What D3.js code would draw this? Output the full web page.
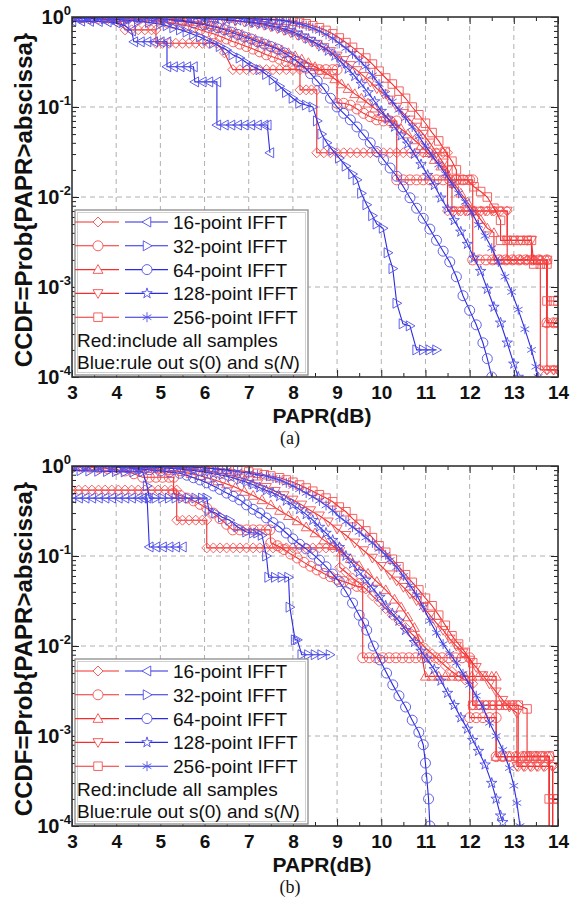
<!DOCTYPE html>
<html>
<head>
<meta charset="utf-8">
<script src="https://cdn.jsdelivr.net/npm/d3@7"></script>
<style>
  body { margin: 0; background: #fff; }
  svg { display: block; }
</style>
</head>
<body>
<svg id="fig" width="585" height="899"></svg>
<script>
// ===== axis / legend texts =====
const xTicks = [3, 4, 5, 6, 7, 8, 9, 10, 11, 12, 13, 14];
const yDecades = [1e-4, 1e-3, 1e-2, 1e-1, 1];
const legendLabels = ["16-point IFFT", "32-point IFFT", "64-point IFFT", "128-point IFFT", "256-point IFFT"];
const redShapes = ["diamond", "circle", "triUp", "triDown", "square"];
const blueShapes = ["triLeft", "triRight", "circle", "star", "asterisk"];

// ===== panel (a) : [PAPR dB, CCDF] =====
const aRed16 = [[3.0,0.97],[3.2,0.965],[3.4,0.96],[3.6,0.95],[3.8,0.93],[4.0,0.9],[4.1,0.88],[4.2,0.72],[4.35,0.72],[4.5,0.72],[4.65,0.72],[4.8,0.72],[4.9,0.72],[4.9,0.51],[5.05,0.51],[5.2,0.51],[5.35,0.51],[5.5,0.51],[5.65,0.51],[5.8,0.51],[5.95,0.51],[6.1,0.51],[6.28,0.51],[6.45,0.4],[6.64,0.26],[6.8,0.26],[6.95,0.26],[7.1,0.26],[7.25,0.26],[7.4,0.26],[7.55,0.26],[7.7,0.26],[7.85,0.26],[8.0,0.26],[8.16,0.26],[8.16,0.155],[8.3,0.155],[8.42,0.155],[8.54,0.155],[8.54,0.031],[8.7,0.031],[8.85,0.031],[9.0,0.031],[9.15,0.031],[9.3,0.031],[9.45,0.031],[9.6,0.031],[9.75,0.031],[9.9,0.031],[10.05,0.031],[10.2,0.031],[10.35,0.031],[10.5,0.031],[10.65,0.031],[10.8,0.031],[10.95,0.031],[11.1,0.031],[11.25,0.031],[11.4,0.031],[11.5,0.031],[11.5,0.007],[11.65,0.007],[11.8,0.007],[11.95,0.007],[12.1,0.007],[12.25,0.007],[12.4,0.007],[12.55,0.007],[12.7,0.007],[12.85,0.007],[12.85,0.002],[13.0,0.002],[13.15,0.002],[13.3,0.002],[13.45,0.002],[13.6,0.002],[13.6,0.00012],[13.75,0.00012],[13.9,0.00012],[14.0,0.00012]];
const aRed32 = [[3.0,0.99],[3.25,0.985],[3.5,0.98],[3.75,0.975],[4.0,0.97],[4.25,0.955],[4.5,0.94],[4.75,0.92],[5.0,0.9],[5.15,0.875],[5.3,0.85],[5.45,0.825],[5.6,0.8],[5.75,0.76],[5.9,0.72],[6.05,0.68],[6.2,0.65],[6.35,0.61],[6.5,0.57],[6.65,0.53],[6.8,0.5],[6.95,0.47],[7.1,0.44],[7.25,0.41],[7.4,0.38],[7.55,0.36],[7.7,0.34],[7.85,0.32],[8.0,0.3],[8.15,0.285],[8.3,0.27],[8.45,0.265],[8.6,0.26],[8.75,0.26],[8.9,0.26],[9.0,0.26],[9.0,0.11],[9.15,0.11],[9.3,0.105],[9.45,0.095],[9.6,0.085],[9.75,0.078],[9.9,0.072],[10.05,0.07],[10.2,0.07],[10.35,0.07],[10.35,0.0155],[10.5,0.0155],[10.65,0.0155],[10.8,0.0155],[10.95,0.0155],[11.1,0.0155],[11.25,0.0155],[11.4,0.0155],[11.55,0.0155],[11.7,0.0155],[11.85,0.0155],[12.0,0.0155],[12.07,0.0155],[12.07,0.002],[12.22,0.002],[12.37,0.002],[12.52,0.002],[12.67,0.002],[12.82,0.002],[12.97,0.002],[13.12,0.002],[13.27,0.002],[13.42,0.002],[13.57,0.002],[13.75,0.002],[13.75,0.0004],[13.9,0.0004],[14.0,0.0004]];
const aRed64 = [[3.0,1.0],[3.3,1.0],[3.6,0.995],[3.9,0.99],[4.2,0.985],[4.5,0.98],[4.75,0.97],[5.0,0.96],[5.25,0.94],[5.5,0.92],[5.65,0.9],[5.8,0.88],[5.95,0.85],[6.1,0.82],[6.25,0.79],[6.4,0.75],[6.55,0.72],[6.7,0.68],[6.85,0.64],[7.0,0.6],[7.15,0.565],[7.3,0.53],[7.45,0.495],[7.6,0.46],[7.75,0.43],[7.9,0.4],[8.05,0.37],[8.2,0.34],[8.35,0.31],[8.5,0.28],[8.65,0.255],[8.8,0.23],[8.95,0.205],[9.1,0.18],[9.25,0.16],[9.4,0.14],[9.55,0.125],[9.7,0.11],[9.85,0.097],[10.0,0.085],[10.15,0.075],[10.3,0.065],[10.45,0.057],[10.6,0.05],[10.75,0.043],[10.9,0.037],[11.05,0.031],[11.2,0.026],[11.35,0.022],[11.5,0.018],[11.65,0.014],[11.8,0.011],[11.95,0.0088],[12.1,0.007],[12.25,0.0056],[12.4,0.0045],[12.55,0.004],[12.55,0.002],[12.7,0.002],[12.85,0.002],[13.0,0.002],[13.15,0.002],[13.3,0.002],[13.45,0.002],[13.6,0.002],[13.75,0.002],[13.75,0.0004],[13.9,0.0004],[14.0,0.0004]];
const aRed128 = [[3.0,1.0],[3.4,1.0],[3.8,1.0],[4.2,1.0],[4.6,0.995],[5.0,0.99],[5.3,0.985],[5.6,0.975],[5.9,0.965],[6.2,0.945],[6.45,0.925],[6.7,0.9],[6.9,0.88],[7.05,0.86],[7.2,0.83],[7.35,0.81],[7.5,0.78],[7.65,0.745],[7.8,0.71],[7.95,0.67],[8.1,0.63],[8.25,0.585],[8.4,0.54],[8.55,0.5],[8.7,0.46],[8.85,0.415],[9.0,0.37],[9.15,0.33],[9.3,0.29],[9.45,0.255],[9.6,0.22],[9.75,0.19],[9.9,0.16],[10.05,0.14],[10.2,0.12],[10.35,0.1],[10.5,0.085],[10.65,0.072],[10.8,0.06],[10.95,0.05],[11.1,0.04],[11.25,0.031],[11.4,0.024],[11.5,0.02],[11.6,0.014],[11.6,0.007],[11.75,0.007],[11.9,0.007],[12.05,0.007],[12.2,0.007],[12.35,0.007],[12.5,0.007],[12.65,0.007],[12.85,0.007],[12.85,0.0033],[13.0,0.0033],[13.15,0.0033],[13.3,0.0033],[13.4,0.0033],[13.4,0.002],[13.55,0.002],[13.75,0.002],[13.75,0.00012],[13.9,0.00012],[14.0,0.00012]];
const aRed256 = [[3.0,1.0],[3.4,1.0],[3.8,1.0],[4.2,1.0],[4.6,1.0],[5.0,1.0],[5.4,0.995],[5.8,0.99],[6.2,0.985],[6.6,0.98],[7.0,0.97],[7.2,0.96],[7.4,0.95],[7.55,0.94],[7.7,0.93],[7.85,0.915],[8.0,0.9],[8.15,0.87],[8.3,0.84],[8.45,0.8],[8.6,0.76],[8.75,0.71],[8.9,0.65],[9.05,0.585],[9.2,0.52],[9.35,0.46],[9.5,0.4],[9.65,0.35],[9.8,0.3],[9.95,0.25],[10.1,0.21],[10.25,0.18],[10.4,0.15],[10.55,0.125],[10.7,0.1],[10.85,0.082],[11.0,0.066],[11.15,0.052],[11.3,0.042],[11.45,0.032],[11.6,0.025],[11.7,0.02],[11.7,0.0155],[11.85,0.0155],[11.95,0.0155],[12.1,0.013],[12.25,0.0115],[12.4,0.01],[12.55,0.0075],[12.7,0.0055],[12.7,0.0033],[12.85,0.0033],[13.0,0.0033],[13.15,0.0033],[13.3,0.0033],[13.4,0.0033],[13.45,0.0018],[13.6,0.0018],[13.75,0.0018],[13.75,0.0007],[13.9,0.0007],[14.0,0.0007]];

const aBlue16 = [[3.0,0.9],[3.2,0.9],[3.4,0.895],[3.6,0.89],[3.8,0.88],[4.0,0.86],[4.2,0.8],[4.35,0.7],[4.4,0.53],[4.55,0.53],[4.7,0.53],[4.85,0.53],[5.0,0.53],[5.15,0.53],[5.15,0.28],[5.3,0.28],[5.45,0.28],[5.6,0.28],[5.75,0.28],[5.78,0.19],[5.95,0.19],[6.1,0.19],[6.28,0.19],[6.28,0.063],[6.45,0.063],[6.6,0.063],[6.75,0.063],[6.9,0.063],[7.05,0.063],[7.2,0.063],[7.35,0.063],[7.42,0.063],[7.48,0.031]];
const aBlue32 = [[3.0,0.97],[3.25,0.965],[3.5,0.96],[3.75,0.95],[4.0,0.94],[4.25,0.92],[4.5,0.9],[4.75,0.87],[5.0,0.83],[5.15,0.8],[5.3,0.76],[5.45,0.72],[5.6,0.68],[5.75,0.64],[5.9,0.6],[6.05,0.55],[6.2,0.51],[6.35,0.47],[6.5,0.43],[6.64,0.38],[6.8,0.35],[6.95,0.31],[7.1,0.28],[7.25,0.26],[7.4,0.23],[7.55,0.2],[7.7,0.17],[7.85,0.145],[8.0,0.125],[8.15,0.11],[8.3,0.105],[8.45,0.1],[8.55,0.07],[8.65,0.05],[8.77,0.04],[8.9,0.033],[9.05,0.027],[9.2,0.022],[9.35,0.018],[9.45,0.0155],[9.55,0.011],[9.67,0.0082],[9.8,0.0062],[9.9,0.005],[10.04,0.0045],[10.15,0.0024],[10.26,0.0016],[10.35,0.00066],[10.49,0.00039],[10.65,0.00037],[10.8,0.0002],[10.95,0.0002],[11.1,0.0002],[11.25,0.0002]];
const aBlue64 = [[3.0,1.0],[3.25,1.0],[3.5,1.0],[3.75,0.995],[4.0,0.99],[4.25,0.985],[4.5,0.98],[4.75,0.97],[5.0,0.95],[5.25,0.93],[5.5,0.9],[5.75,0.86],[6.0,0.82],[6.15,0.79],[6.3,0.76],[6.45,0.72],[6.6,0.68],[6.75,0.64],[6.9,0.6],[7.05,0.57],[7.2,0.53],[7.35,0.5],[7.5,0.47],[7.65,0.44],[7.8,0.4],[7.95,0.36],[8.1,0.32],[8.25,0.28],[8.4,0.235],[8.55,0.195],[8.7,0.16],[8.85,0.125],[9.0,0.1],[9.15,0.085],[9.3,0.072],[9.45,0.06],[9.6,0.049],[9.75,0.04],[9.9,0.032],[10.05,0.026],[10.2,0.021],[10.35,0.017],[10.5,0.013],[10.65,0.0098],[10.8,0.0075],[10.95,0.0058],[11.1,0.0044],[11.25,0.0033],[11.4,0.0025],[11.55,0.0019],[11.7,0.0013],[11.85,0.0008],[12.0,0.00055],[12.15,0.00038],[12.3,0.00024],[12.4,0.00016],[12.5,0.0001]];
const aBlue128 = [[3.0,1.0],[3.3,1.0],[3.6,1.0],[3.9,1.0],[4.2,1.0],[4.5,0.995],[4.8,0.99],[5.1,0.99],[5.4,0.98],[5.7,0.975],[6.0,0.96],[6.25,0.95],[6.5,0.93],[6.75,0.91],[7.0,0.88],[7.15,0.86],[7.3,0.84],[7.45,0.81],[7.6,0.78],[7.75,0.75],[7.9,0.71],[8.05,0.67],[8.2,0.62],[8.35,0.57],[8.5,0.52],[8.65,0.47],[8.8,0.42],[8.95,0.37],[9.1,0.31],[9.25,0.265],[9.4,0.22],[9.55,0.18],[9.7,0.145],[9.85,0.115],[10.0,0.09],[10.15,0.074],[10.3,0.06],[10.45,0.048],[10.6,0.039],[10.75,0.03],[10.9,0.023],[11.05,0.0175],[11.2,0.0135],[11.35,0.0098],[11.5,0.0074],[11.65,0.0055],[11.8,0.0041],[11.95,0.003],[12.1,0.0021],[12.25,0.0015],[12.4,0.00095],[12.55,0.0006],[12.7,0.0004],[12.85,0.00024],[13.0,0.00014],[13.1,0.0001]];
const aBlue256 = [[3.0,1.0],[3.3,1.0],[3.6,1.0],[3.9,1.0],[4.2,1.0],[4.5,1.0],[4.8,1.0],[5.1,1.0],[5.4,0.995],[5.7,0.99],[6.0,0.99],[6.3,0.98],[6.6,0.975],[6.9,0.965],[7.2,0.95],[7.45,0.935],[7.7,0.92],[7.85,0.9],[8.0,0.87],[8.15,0.84],[8.3,0.8],[8.45,0.75],[8.6,0.7],[8.75,0.64],[8.9,0.58],[9.05,0.51],[9.2,0.45],[9.35,0.39],[9.5,0.33],[9.65,0.28],[9.8,0.225],[9.95,0.18],[10.1,0.14],[10.25,0.115],[10.4,0.093],[10.55,0.075],[10.7,0.06],[10.85,0.047],[11.0,0.037],[11.15,0.029],[11.3,0.023],[11.45,0.018],[11.6,0.014],[11.75,0.011],[11.9,0.0088],[12.05,0.0067],[12.2,0.0049],[12.35,0.0037],[12.5,0.0027],[12.65,0.0019],[12.8,0.0013],[12.95,0.00088],[13.1,0.00056],[13.25,0.00034],[13.4,0.0002],[13.5,0.00013],[13.55,0.0001]];

// ===== panel (b) =====
const bRed16 = [[3.0,1.0],[3.0,0.54],[3.15,0.54],[3.3,0.54],[3.45,0.54],[3.6,0.54],[3.75,0.54],[3.9,0.54],[4.05,0.54],[4.2,0.54],[4.35,0.54],[4.5,0.54],[4.65,0.54],[4.8,0.54],[4.95,0.54],[5.1,0.54],[5.25,0.54],[5.37,0.54],[5.37,0.25],[5.5,0.25],[5.65,0.25],[5.8,0.25],[5.95,0.25],[6.05,0.25],[6.05,0.123],[6.2,0.123],[6.35,0.123],[6.5,0.123],[6.65,0.123],[6.8,0.123],[6.95,0.123],[7.1,0.123],[7.25,0.123],[7.4,0.123],[7.55,0.123],[7.7,0.123],[7.85,0.123],[8.0,0.123],[8.15,0.123],[8.3,0.123],[8.45,0.123],[8.6,0.123],[8.75,0.123],[8.9,0.123],[9.06,0.123],[9.06,0.075],[9.2,0.066],[9.35,0.057],[9.5,0.05],[9.65,0.043],[9.8,0.036],[9.95,0.031],[10.1,0.026],[10.25,0.022],[10.4,0.019],[10.55,0.016],[10.7,0.0135],[10.85,0.0115],[11.0,0.0095],[11.15,0.0082],[11.3,0.007],[11.45,0.006],[11.6,0.0052],[11.75,0.0046],[11.9,0.0042],[12.07,0.0038],[12.07,0.0022],[12.22,0.0022],[12.37,0.0022],[12.52,0.0022],[12.67,0.0022],[12.82,0.0022],[12.97,0.0022],[13.1,0.0022],[13.1,0.00046],[13.25,0.00046],[13.4,0.00046],[13.55,0.00046],[13.7,0.00046],[13.88,0.00046],[13.88,0.00005]];
const bRed32 = [[3.0,0.99],[3.2,0.98],[3.4,0.97],[3.6,0.955],[3.8,0.94],[4.0,0.91],[4.2,0.88],[4.4,0.82],[4.6,0.75],[4.75,0.75],[4.9,0.75],[5.05,0.75],[5.2,0.75],[5.3,0.75],[5.3,0.5],[5.45,0.47],[5.6,0.44],[5.75,0.41],[5.9,0.375],[6.05,0.34],[6.2,0.3],[6.35,0.26],[6.5,0.225],[6.64,0.195],[6.8,0.195],[6.95,0.195],[7.1,0.195],[7.25,0.195],[7.4,0.195],[7.48,0.195],[7.5,0.14],[7.65,0.13],[7.8,0.118],[7.95,0.105],[8.1,0.095],[8.25,0.085],[8.4,0.077],[8.55,0.07],[8.7,0.064],[8.85,0.059],[9.0,0.055],[9.15,0.052],[9.3,0.049],[9.45,0.046],[9.58,0.045],[9.58,0.0074],[9.73,0.0074],[9.88,0.0074],[10.03,0.0074],[10.18,0.0074],[10.33,0.0074],[10.48,0.0074],[10.63,0.0074],[10.78,0.0074],[10.93,0.0074],[11.08,0.0074],[11.23,0.0074],[11.38,0.0074],[11.53,0.0074],[11.68,0.0074],[11.83,0.0074],[12.0,0.0074],[12.0,0.0016],[12.15,0.0016],[12.3,0.0016],[12.45,0.0016],[12.6,0.0016],[12.6,0.00059],[12.75,0.00059],[12.9,0.00059],[13.05,0.00059],[13.2,0.00059],[13.35,0.00059],[13.5,0.00059],[13.65,0.00059],[13.8,0.00059],[13.8,0.00005]];
const bRed64 = [[3.0,1.0],[3.25,0.995],[3.5,0.99],[3.75,0.985],[4.0,0.98],[4.25,0.97],[4.5,0.96],[4.75,0.94],[5.0,0.92],[5.25,0.89],[5.5,0.86],[5.7,0.82],[5.9,0.78],[6.1,0.73],[6.3,0.68],[6.5,0.63],[6.7,0.58],[6.9,0.52],[7.1,0.47],[7.3,0.42],[7.5,0.37],[7.7,0.32],[7.9,0.28],[8.1,0.245],[8.3,0.21],[8.5,0.18],[8.7,0.15],[8.9,0.13],[9.1,0.11],[9.3,0.093],[9.5,0.078],[9.7,0.064],[9.9,0.052],[10.1,0.042],[10.3,0.033],[10.45,0.027],[10.6,0.021],[10.75,0.016],[10.85,0.012],[11.0,0.0046],[11.15,0.0046],[11.3,0.0046],[11.45,0.0046],[11.6,0.0046],[11.75,0.0046],[11.9,0.0046],[12.05,0.0046],[12.2,0.0046],[12.35,0.0046],[12.5,0.0046],[12.6,0.0046],[12.6,0.00059],[12.75,0.00059],[12.9,0.00059],[13.05,0.00059],[13.2,0.00059],[13.35,0.00059],[13.5,0.00059],[13.65,0.00059],[13.8,0.00059],[13.8,0.00005]];
const bRed128 = [[3.0,1.0],[3.3,1.0],[3.6,0.995],[3.9,0.99],[4.2,0.985],[4.5,0.98],[4.8,0.975],[5.0,0.97],[5.25,0.955],[5.5,0.94],[5.75,0.915],[6.0,0.89],[6.2,0.86],[6.4,0.82],[6.6,0.78],[6.8,0.74],[7.0,0.69],[7.2,0.635],[7.4,0.58],[7.6,0.525],[7.8,0.47],[8.0,0.42],[8.2,0.37],[8.4,0.32],[8.6,0.28],[8.8,0.24],[9.0,0.2],[9.2,0.17],[9.4,0.14],[9.6,0.115],[9.8,0.095],[10.0,0.077],[10.2,0.062],[10.35,0.053],[10.5,0.045],[10.65,0.038],[10.8,0.032],[10.95,0.027],[11.1,0.022],[11.25,0.018],[11.4,0.015],[11.55,0.012],[11.7,0.01],[11.85,0.0084],[12.0,0.007],[12.15,0.0058],[12.3,0.0047],[12.45,0.0038],[12.6,0.0031],[12.75,0.0025],[12.9,0.0021],[13.07,0.0018],[13.07,0.00046],[13.22,0.00046],[13.37,0.00046],[13.52,0.00046],[13.67,0.00046],[13.88,0.00046],[13.88,0.00005]];
const bRed256 = [[3.0,1.0],[3.4,1.0],[3.8,1.0],[4.2,1.0],[4.6,0.995],[5.0,0.99],[5.3,0.985],[5.6,0.975],[5.9,0.965],[6.2,0.945],[6.5,0.92],[6.75,0.89],[7.0,0.86],[7.2,0.83],[7.35,0.8],[7.5,0.775],[7.7,0.74],[7.85,0.7],[8.0,0.66],[8.15,0.615],[8.3,0.57],[8.45,0.525],[8.6,0.48],[8.75,0.44],[8.9,0.4],[9.05,0.35],[9.2,0.31],[9.35,0.26],[9.5,0.225],[9.65,0.19],[9.8,0.16],[9.95,0.13],[10.1,0.11],[10.25,0.092],[10.4,0.076],[10.55,0.062],[10.7,0.051],[10.85,0.042],[11.0,0.034],[11.15,0.028],[11.3,0.022],[11.45,0.017],[11.6,0.013],[11.75,0.0105],[11.9,0.0085],[12.07,0.0065],[12.07,0.0022],[12.22,0.0022],[12.37,0.0022],[12.52,0.0022],[12.67,0.0022],[12.82,0.0022],[12.97,0.0022],[13.1,0.0022],[13.3,0.002],[13.3,0.0006],[13.45,0.0006],[13.6,0.0006],[13.8,0.0006],[13.8,0.0002],[13.9,0.0002],[14.0,0.0002]];

const bBlue16 = [[3.0,0.44],[3.15,0.44],[3.3,0.44],[3.45,0.44],[3.6,0.44],[3.75,0.44],[3.9,0.44],[4.05,0.44],[4.2,0.44],[4.35,0.44],[4.5,0.44],[4.6,0.44],[4.7,0.44],[4.75,0.126],[4.9,0.126],[5.05,0.126],[5.2,0.126],[5.35,0.126],[5.5,0.126]];
const bBlue32 = [[3.0,0.9],[3.2,0.89],[3.4,0.88],[3.6,0.875],[3.8,0.87],[4.0,0.865],[4.2,0.86],[4.4,0.86],[4.6,0.86],[4.7,0.6],[4.75,0.44],[4.9,0.44],[5.05,0.44],[5.2,0.44],[5.35,0.44],[5.5,0.44],[5.65,0.44],[5.8,0.44],[5.95,0.44],[6.05,0.44],[6.1,0.32],[6.25,0.3],[6.4,0.27],[6.57,0.25],[6.75,0.21],[6.95,0.185],[7.1,0.18],[7.2,0.18],[7.3,0.17],[7.4,0.1],[7.45,0.058],[7.6,0.058],[7.75,0.058],[7.9,0.058],[7.93,0.027],[8.05,0.0117],[8.1,0.0117],[8.2,0.008],[8.35,0.008],[8.5,0.008],[8.65,0.008],[8.84,0.008]];
const bBlue64 = [[3.0,1.0],[3.25,0.995],[3.5,0.99],[3.75,0.98],[4.0,0.97],[4.25,0.955],[4.5,0.93],[4.75,0.91],[5.0,0.88],[5.2,0.86],[5.44,0.83],[5.6,0.79],[5.75,0.74],[5.9,0.7],[6.05,0.65],[6.2,0.6],[6.35,0.55],[6.5,0.5],[6.65,0.46],[6.8,0.42],[6.95,0.37],[7.1,0.33],[7.25,0.3],[7.4,0.265],[7.55,0.235],[7.7,0.21],[7.85,0.18],[8.0,0.155],[8.15,0.135],[8.3,0.12],[8.45,0.105],[8.6,0.09],[8.75,0.076],[8.9,0.063],[9.05,0.052],[9.2,0.04],[9.35,0.03],[9.5,0.022],[9.6,0.018],[9.67,0.015],[9.82,0.01],[9.97,0.007],[10.12,0.005],[10.26,0.0037],[10.4,0.0028],[10.55,0.0021],[10.7,0.0015],[10.85,0.0011],[10.95,0.0008],[11.0,0.0005],[11.03,0.00034],[11.07,0.0002],[11.1,0.0001]];
const bBlue128 = [[3.0,1.0],[3.3,1.0],[3.6,0.995],[3.9,0.99],[4.2,0.985],[4.5,0.975],[4.8,0.965],[5.0,0.96],[5.25,0.94],[5.5,0.92],[5.75,0.89],[6.0,0.86],[6.2,0.82],[6.4,0.79],[6.6,0.75],[6.8,0.7],[6.95,0.66],[7.1,0.62],[7.25,0.575],[7.4,0.535],[7.55,0.5],[7.7,0.46],[7.85,0.41],[8.0,0.37],[8.15,0.33],[8.3,0.29],[8.45,0.25],[8.6,0.21],[8.75,0.18],[8.9,0.15],[9.05,0.125],[9.2,0.1],[9.35,0.082],[9.5,0.066],[9.65,0.054],[9.8,0.044],[9.97,0.035],[10.1,0.028],[10.25,0.023],[10.4,0.019],[10.55,0.015],[10.75,0.011],[10.9,0.0088],[11.03,0.0072],[11.2,0.0055],[11.35,0.0041],[11.5,0.003],[11.65,0.0022],[11.8,0.0016],[11.95,0.0012],[12.07,0.0009],[12.2,0.00068],[12.35,0.00048],[12.5,0.0003],[12.6,0.0002],[12.7,0.00013],[12.75,0.00011]];
const bBlue256 = [[3.0,1.0],[3.3,1.0],[3.6,1.0],[3.9,1.0],[4.2,1.0],[4.5,0.995],[4.8,0.99],[5.1,0.99],[5.4,0.98],[5.7,0.97],[6.0,0.95],[6.25,0.93],[6.5,0.9],[6.75,0.87],[7.0,0.83],[7.2,0.8],[7.4,0.77],[7.55,0.735],[7.7,0.7],[7.85,0.65],[8.0,0.6],[8.15,0.55],[8.3,0.5],[8.45,0.455],[8.6,0.41],[8.75,0.365],[8.9,0.32],[9.06,0.27],[9.2,0.24],[9.35,0.21],[9.5,0.185],[9.65,0.16],[9.8,0.14],[9.95,0.12],[10.1,0.103],[10.2,0.09],[10.35,0.075],[10.5,0.06],[10.65,0.047],[10.8,0.037],[10.95,0.027],[11.1,0.019],[11.25,0.014],[11.4,0.0105],[11.55,0.0082],[11.7,0.0065],[11.85,0.0049],[12.0,0.0037],[12.15,0.0028],[12.3,0.0021],[12.45,0.0014],[12.6,0.001],[12.75,0.0007],[12.9,0.00044],[13.0,0.00028],[13.07,0.00018],[13.14,0.0001]];

// ===== drawing =====
const svg = d3.select("#fig");
const FONT = "'Liberation Sans', Arial, Helvetica, sans-serif";
const RED = "#f22e2e", RED_MK = "#f55050";
const BLUE = "#2b2be0", BLUE_MK = "#4f4fe8";

function shapePath(shape, r) {
  switch (shape) {
    case "diamond": return `M0,${-r}L${r},0L0,${r}L${-r},0Z`;
    case "circle": return `M${r},0A${r},${r} 0 1,1 ${-r},0A${r},${r} 0 1,1 ${r},0Z`;
    case "square": { const s = r * 0.85; return `M${-s},${-s}H${s}V${s}H${-s}Z`; }
    case "triUp": return `M0,${-r}L${r},${r * 0.75}L${-r},${r * 0.75}Z`;
    case "triDown": return `M0,${r}L${r},${-r * 0.75}L${-r},${-r * 0.75}Z`;
    case "triLeft": return `M${-r},0L${r * 0.75},${-r}L${r * 0.75},${r}Z`;
    case "triRight": return `M${r},0L${-r * 0.75},${-r}L${-r * 0.75},${r}Z`;
    case "star": {
      const pts = d3.range(10).map(i => {
        const a = -Math.PI / 2 + i * Math.PI / 5, rr = i % 2 ? r * 0.42 : r * 1.1;
        return [rr * Math.cos(a), rr * Math.sin(a)];
      });
      return "M" + pts.join("L") + "Z";
    }
    case "asterisk": {
      const c = r * 0.87, s = r * 0.5;
      return `M0,${-r}V${r}M${-c},${-s}L${c},${s}M${-c},${s}L${c},${-s}`;
    }
  }
}

function drawPanel(top, reds, blues, tag) {
  const left = 72, right = 558, bottom = top + 360;
  const x = d3.scaleLinear().domain([3, 14]).range([left, right]);
  const y = d3.scaleLog().domain([1e-4, 1]).range([bottom, top]);
  const g = svg.append("g");

  svg.append("clipPath").attr("id", "clip" + tag)
    .append("rect").attr("x", left).attr("y", top).attr("width", right - left).attr("height", bottom - top);

  // === grid ===
  g.selectAll(".vgrid").data(xTicks.slice(1, -1)).enter().append("line")
    .attr("x1", d => x(d)).attr("x2", d => x(d)).attr("y1", top).attr("y2", bottom)
    .attr("stroke", "#b0b0b0").attr("stroke-width", 1).attr("stroke-dasharray", "5,4");
  g.selectAll(".hgrid").data(yDecades.slice(1, -1)).enter().append("line")
    .attr("x1", left).attr("x2", right).attr("y1", d => y(d)).attr("y2", d => y(d))
    .attr("stroke", "#b0b0b0").attr("stroke-width", 1).attr("stroke-dasharray", "5,4");

  // === curves ===
  const line = d3.line().x(d => x(d[0])).y(d => y(d[1]));
  const plot = g.append("g").attr("clip-path", `url(#clip${tag})`);
  function drawSeries(data, shape, color, mk) {
    plot.append("path").datum(data).attr("d", line)
      .attr("fill", "none").attr("stroke", color).attr("stroke-width", 1.1);
    plot.append("g").selectAll("path").data(data).enter().append("path")
      .attr("transform", d => `translate(${x(d[0])},${y(d[1])})`)
      .attr("d", shapePath(shape, 5))
      .attr("fill", "none").attr("stroke", mk).attr("stroke-width", 0.9);
  }
  reds.forEach((s, i) => drawSeries(s, redShapes[i], RED, RED_MK));
  blues.forEach((s, i) => drawSeries(s, blueShapes[i], BLUE, BLUE_MK));

  // === axes (ticks inward) ===
  const xHalf = xTicks.slice(0, -1).map(d => d + 0.5);
  const yMinor = y.ticks().filter(d => !yDecades.some(v => Math.abs(v - d) / d < 1e-6));
  const ax = (gen, tx, ty) => {
    const s = g.append("g").attr("transform", `translate(${tx},${ty})`).call(gen);
    s.select(".domain").remove();
    s.selectAll("line").attr("stroke", "#222");
    return s;
  };
  ax(d3.axisBottom(x).tickValues(xTicks).tickSize(-7).tickPadding(9).tickFormat(d3.format("d")), 0, bottom)
    .selectAll("text").attr("font-size", 19).attr("font-weight", "bold")
    .attr("font-family", FONT).attr("fill", "#111");
  ax(d3.axisBottom(x).tickValues(xHalf).tickSize(-4).tickFormat(""), 0, bottom);
  ax(d3.axisTop(x).tickValues(xTicks).tickSize(-7).tickFormat(""), 0, top);
  ax(d3.axisTop(x).tickValues(xHalf).tickSize(-4).tickFormat(""), 0, top);
  ax(d3.axisLeft(y).tickValues(yDecades).tickSize(-7).tickFormat(""), left, 0);
  ax(d3.axisLeft(y).tickValues(yMinor).tickSize(-4).tickFormat(""), left, 0);
  ax(d3.axisRight(y).tickValues(yDecades).tickSize(-7).tickFormat(""), right, 0);
  ax(d3.axisRight(y).tickValues(yMinor).tickSize(-4).tickFormat(""), right, 0);

  // frame
  g.append("rect").attr("x", left).attr("y", top).attr("width", right - left).attr("height", bottom - top)
    .attr("fill", "none").attr("stroke", "#333").attr("stroke-width", 1.6);

  // y tick labels 10^k
  const yl = g.selectAll(".ylab").data(yDecades).enter().append("text")
    .attr("x", left - 1).attr("y", d => y(d) + 7).attr("text-anchor", "end")
    .attr("font-family", FONT).attr("font-weight", "bold").attr("font-size", 20).attr("fill", "#111");
  yl.append("tspan").text("10");
  yl.append("tspan").attr("dy", -9).attr("font-size", 13).text(d => Math.round(Math.log10(d)));

  // axis titles
  g.append("text").attr("x", 322).attr("y", bottom + 46).attr("text-anchor", "middle")
    .attr("font-family", FONT).attr("font-weight", "bold").attr("font-size", 21).attr("fill", "#111")
    .text("PAPR(dB)");
  g.append("text").attr("transform", `translate(32,${top + 183}) rotate(-90)`).attr("text-anchor", "middle")
    .attr("font-family", FONT).attr("font-weight", "bold").attr("font-size", 24).attr("fill", "#111")
    .text("CCDF=Prob{PAPR>abscissa}");
  g.append("text").attr("x", 290).attr("y", bottom + 67).attr("text-anchor", "middle")
    .attr("font-family", "'Liberation Serif', 'Times New Roman', serif").attr("font-size", 18).attr("fill", "#111")
    .text(tag === "a" ? "(a)" : "(b)");

  // === legend ===
  const lg = g.append("g");
  lg.append("rect").attr("x", 75).attr("y", top + 193).attr("width", 233).attr("height", 165)
    .attr("fill", "#fff").attr("stroke", "#8c8c8c").attr("stroke-width", 1.3);
  lg.append("rect").attr("x", 77.5).attr("y", top + 195.5).attr("width", 228).attr("height", 160)
    .attr("fill", "none").attr("stroke", "#d0d0d0").attr("stroke-width", 1);
  legendLabels.forEach((lab, i) => {
    const cy = top + 205 + i * 23.8;
    lg.append("line").attr("x1", 75).attr("x2", 119).attr("y1", cy).attr("y2", cy)
      .attr("stroke", RED).attr("stroke-width", 1.1);
    lg.append("path").attr("transform", `translate(98,${cy})`).attr("d", shapePath(redShapes[i], 5))
      .attr("fill", "#fff").attr("stroke", RED_MK).attr("stroke-width", 0.9);
    lg.append("line").attr("x1", 125).attr("x2", 168).attr("y1", cy).attr("y2", cy)
      .attr("stroke", BLUE).attr("stroke-width", 1.1);
    lg.append("path").attr("transform", `translate(147,${cy})`).attr("d", shapePath(blueShapes[i], 5))
      .attr("fill", blueShapes[i] === "asterisk" ? "none" : "#fff").attr("stroke", BLUE_MK).attr("stroke-width", 0.9);
    lg.append("text").attr("x", 173).attr("y", cy + 7)
      .attr("font-family", FONT).attr("font-size", 19).attr("fill", "#111").text(lab);
  });
  lg.append("text").attr("x", 77).attr("y", top + 330)
    .attr("font-family", FONT).attr("font-size", 19).attr("fill", "#111").text("Red:include all samples");
  const bt = lg.append("text").attr("x", 77).attr("y", top + 351.5)
    .attr("font-family", FONT).attr("font-size", 19).attr("fill", "#111");
  bt.append("tspan").text("Blue:rule out s(0) and s(");
  bt.append("tspan").attr("font-style", "italic").text("N");
  bt.append("tspan").text(")");
}

drawPanel(17, [aRed16, aRed32, aRed64, aRed128, aRed256], [aBlue16, aBlue32, aBlue64, aBlue128, aBlue256], "a");
drawPanel(466, [bRed16, bRed32, bRed64, bRed128, bRed256], [bBlue16, bBlue32, bBlue64, bBlue128, bBlue256], "b");
</script>
</body>
</html>
